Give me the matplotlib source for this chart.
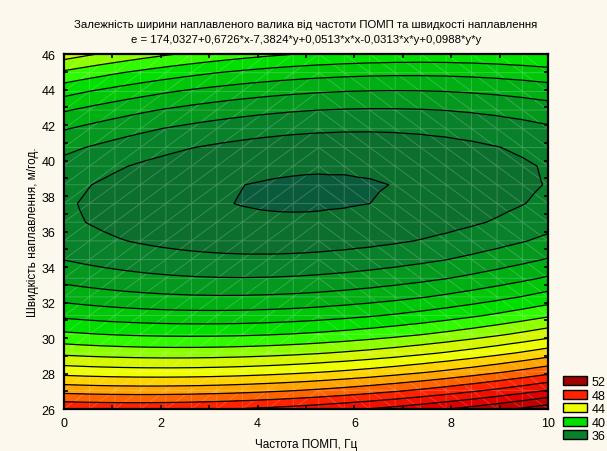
import numpy as np
import matplotlib
matplotlib.use("Agg")
import matplotlib.pyplot as plt
import matplotlib.tri as mtri
from matplotlib.colors import LinearSegmentedColormap
from matplotlib.patches import Patch

# fitted surface, coefficients as printed in the title
coef = [174.0327, 0.6726, -7.3824, 0.0513, -0.0313, 0.0988]  # 1, x, y, x*x, x*y, y*y
x_range = [0, 10]
y_range = [26, 46]
n_nodes = 20
levels = list(range(34, 54))
legend_values = [52, 48, 44, 40, 36]

title = ("Залежність ширини наплавленого валика від частоти ПОМП та швидкості наплавлення\n"
         "e = 174,0327+0,6726*x-7,3824*y+0,0513*x*x-0,0313*x*y+0,0988*y*y")
xlabel = "Частота ПОМП, Гц"
ylabel = "Швидкість наплавлення, м/год."

# colour ramp (dark green -> green -> yellow -> red -> dark red)
anchors = [(34, '#0a5a3c'), (35, '#0c702e'), (36, '#08822a'), (38, '#00b012'),
           (40, '#00e000'), (41, '#30fa00'), (42, '#90ff00'), (43, '#d4f800'),
           (44, '#eeff00'), (45, '#ffd400'), (46, '#ffa400'), (47, '#ff6600'),
           (48, '#ff2200'), (50, '#e00000'), (52, '#a00000'), (53, '#900000')]
lo, hi = anchors[0][0], anchors[-1][0]
cmap = LinearSegmentedColormap.from_list(
    'stat', [((v - lo) / (hi - lo), c) for v, c in anchors])

bg = '#fdf8ee'
plt.rcParams['font.family'] = ['Liberation Sans', 'DejaVu Sans']

gx = np.linspace(x_range[0], x_range[1], n_nodes)
gy = np.linspace(y_range[0], y_range[1], n_nodes)
X, Y = np.meshgrid(gx, gy)
px, py = X.ravel(), Y.ravel()
a, b, c, d, e, f = coef
Z = a + b * px + c * py + d * px * px + e * px * py + f * py * py

# triangulate the grid, diagonals flip at the middle
tris = []
for j in range(n_nodes - 1):
    for i in range(n_nodes - 1):
        p00 = j * n_nodes + i
        p10 = p00 + 1
        p01 = p00 + n_nodes
        p11 = p01 + 1
        if i < (n_nodes - 1) / 2:
            tris += [[p00, p10, p11], [p00, p11, p01]]
        else:
            tris += [[p00, p10, p01], [p10, p11, p01]]
tri = mtri.Triangulation(px, py, np.array(tris))

fig = plt.figure(figsize=(6.07, 4.52), dpi=100, facecolor=bg)
ax = fig.add_axes([0.1054, 0.0929, 0.7974, 0.7854])

bands = [lo - 1] + levels[1:] + [hi + 5]
band_cols = [cmap((max(v, lo) - lo) / (hi - lo)) for v in bands[:-1]]
ax.tricontourf(tri, Z, levels=bands, colors=band_cols)
ax.triplot(tri, color='white', alpha=0.22, lw=0.6)
ax.tricontour(tri, Z, levels=levels[1:], colors='black', linewidths=0.9)

ax.set_xlim(x_range)
ax.set_ylim(y_range)
ax.set_xticks(np.arange(0, 11, 2))
ax.set_xticks(np.arange(0, 11, 1), minor=True)
ax.set_yticks(np.arange(26, 47, 2))
ax.set_yticks(np.arange(26, 47, 1), minor=True)
ax.tick_params(which='both', direction='in', top=True, right=True,
               length=3, width=1.2, labelsize=9, pad=6)
for s in ax.spines.values():
    s.set_linewidth(1.6)

ax.set_title(title, fontsize=8.2, pad=9, linespacing=1.6)
ax.set_xlabel(xlabel, fontsize=8.5, labelpad=6)
ax.set_ylabel(ylabel, fontsize=8.5, labelpad=2)

handles = [Patch(facecolor=cmap((v - lo) / (hi - lo)), edgecolor='black', lw=1)
           for v in legend_values]
fig.legend(handles, [str(v) for v in legend_values], loc='lower left',
           bbox_to_anchor=(0.913, 0.0), frameon=False, fontsize=9,
           handlelength=1.9, handleheight=0.75, labelspacing=0.12,
           handletextpad=0.4, borderpad=0.2)

fig.savefig('out.png', dpi=100, facecolor=bg)
